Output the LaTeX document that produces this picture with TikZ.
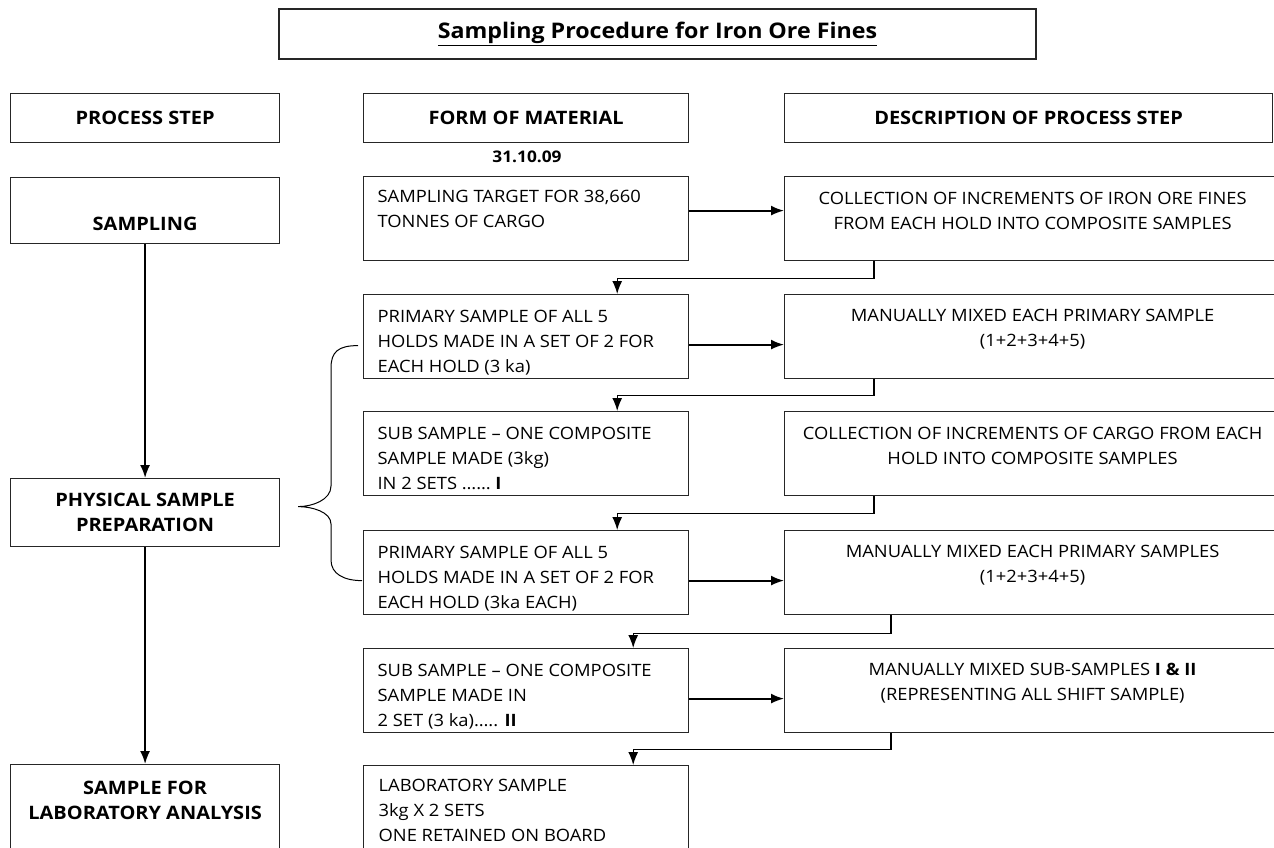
\documentclass[tikz,border=0pt]{standalone}
\usepackage{fontspec}
\setmainfont{Open Sans}[FakeStretch=1.08]
\usetikzlibrary{calc,arrows.meta}
\begin{document}
\begin{tikzpicture}[x=1pt,y=-1pt,>={Latex[length=13pt,width=10pt]},line width=1.2pt]
    \tikzstyle{every node}=[font=\fontsize{17}{25}\selectfont]
    \tikzstyle{stepbox}=[draw=black!85,anchor=north west,inner sep=0,minimum width=269pt]
    \tikzstyle{matbox}=[draw=black!85,anchor=north west,inner sep=0,minimum width=325pt,minimum height=84pt]
    \tikzstyle{descbox}=[draw=black!85,anchor=north west,inner sep=0,minimum width=496pt,minimum height=84pt]
    \tikzstyle{lefttext}=[anchor=north west,align=left,inner sep=0]
    \tikzstyle{midtext}=[anchor=north,align=center,inner sep=0]
    \tikzstyle{headtext}=[align=center,font=\fontsize{18.5}{25}\selectfont\bfseries]
    \tikzstyle{flow}=[-{Latex[length=13pt,width=10pt]},line width=1.8pt]

    \useasboundingbox (0,0) rectangle (1274,847);

    % title and column heads
    \node[draw=black!85,minimum width=757pt,minimum height=50pt,
      font=\fontsize{21.5}{25}\selectfont\bfseries] (title) at (657.5,34)
      {\underline{Sampling Procedure for Iron Ore Fines}};

    \node[stepbox,minimum height=49pt,headtext] (head1) at (10,93) {PROCESS STEP};
    \node[matbox,minimum height=49pt,headtext] (head2) at (363,93) {FORM OF MATERIAL};
    \node[descbox,minimum width=488pt,minimum height=49pt,headtext] (head3) at (784,93)
      {DESCRIPTION OF PROCESS STEP};

    \node[headtext,inner sep=0,font=\fontsize{16}{25}\selectfont\bfseries] (date) at (527,157) {31.10.09};

    % process steps
    \node[stepbox,minimum height=66pt] (samp) at (10,177) {};
    \node[headtext,inner sep=0] (sampt) at ($(samp.north)+(0,47)$) {SAMPLING};

    \node[stepbox,minimum height=68pt,headtext] (phys) at (10,478)
      {PHYSICAL SAMPLE\\PREPARATION};

    \node[stepbox,minimum height=100pt] (lab) at (10,764) {};
    \node[headtext,inner sep=0,anchor=north] (labt) at ($(lab.north)+(0,16)$)
      {SAMPLE FOR\\LABORATORY ANALYSIS};

    % form of material
    \node[matbox] (mat1) at (363,176) {};
    \node[matbox] (mat2) at (363,294) {};
    \node[matbox] (mat3) at (363,411) {};
    \node[matbox] (mat4) at (363,530) {};
    \node[matbox] (mat5) at (363,648) {};
    \node[matbox,minimum height=100pt] (mat6) at (363,765) {};

    \node[lefttext] (mat1t) at ($(mat1.north west)+(14,14)$)
      {SAMPLING TARGET FOR 38,660\\TONNES OF CARGO};
    \node[lefttext] (mat2t) at ($(mat2.north west)+(14,16)$)
      {PRIMARY SAMPLE OF ALL 5\\HOLDS MADE IN A SET OF 2 FOR\\EACH HOLD (3 ka)};
    \node[lefttext] (mat3t) at ($(mat3.north west)+(14,16)$)
      {SUB SAMPLE – ONE COMPOSITE\\SAMPLE MADE (3kg)\\IN 2 SETS …… \textbf{I}};
    \node[lefttext] (mat4t) at ($(mat4.north west)+(14,16)$)
      {PRIMARY SAMPLE OF ALL 5\\HOLDS MADE IN A SET OF 2 FOR\\EACH HOLD (3ka EACH)};
    \node[lefttext] (mat5t) at ($(mat5.north west)+(14,16)$)
      {SUB SAMPLE – ONE COMPOSITE\\SAMPLE MADE IN\\2 SET (3 ka)….. \textbf{II}};
    \node[lefttext] (mat6t) at ($(mat6.north west)+(15,14)$)
      {LABORATORY SAMPLE\\3kg X 2 SETS\\ONE RETAINED ON BOARD};

    % description of process step
    \node[descbox] (desc1) at (784,176) {};
    \node[descbox] (desc2) at (784,294) {};
    \node[descbox] (desc3) at (784,411) {};
    \node[descbox] (desc4) at (784,530) {};
    \node[descbox] (desc5) at (784,648) {};

    \node[midtext] (desc1t) at ($(desc1.north)+(0,16)$)
      {COLLECTION OF INCREMENTS OF IRON ORE FINES\\FROM EACH HOLD INTO COMPOSITE SAMPLES};
    \node[midtext] (desc2t) at ($(desc2.north)+(0,15)$)
      {MANUALLY MIXED EACH PRIMARY SAMPLE\\(1+2+3+4+5)};
    \node[midtext] (desc3t) at ($(desc3.north)+(0,16)$)
      {COLLECTION OF INCREMENTS OF CARGO FROM EACH\\HOLD INTO COMPOSITE SAMPLES};
    \node[midtext] (desc4t) at ($(desc4.north)+(0,15)$)
      {MANUALLY MIXED EACH PRIMARY SAMPLES\\(1+2+3+4+5)};
    \node[midtext] (desc5t) at ($(desc5.north)+(0,15)$)
      {MANUALLY MIXED SUB-SAMPLES \textbf{I \& II}\\(REPRESENTING ALL SHIFT SAMPLE)};

    % left column
    \draw[flow] (samp) -- (phys);
    \draw[flow] (phys) -- (lab);

    % across
    \draw[flow] ([yshift=8pt]mat1.east) -- ([yshift=8pt]desc1.west);
    \draw[flow] ([yshift=-8pt]mat2.east) -- ([yshift=-8pt]desc2.west);
    \draw[flow] ([yshift=-8pt]mat4.east) -- ([yshift=-8pt]desc4.west);
    \draw[flow] ([yshift=-8pt]mat5.east) -- ([yshift=-8pt]desc5.west);

    % back to the next material
    \draw[flow,line width=1.3pt] ([xshift=90pt]desc1.south west) -- ++(0,17) -| ([xshift=-72pt]mat2.north east);
    \draw[flow,line width=1.3pt] ([xshift=90pt]desc2.south west) -- ++(0,16) -| ([xshift=-72pt]mat3.north east);
    \draw[flow,line width=1.3pt] ([xshift=90pt]desc3.south west) -- ++(0,17) -| ([xshift=-72pt]mat4.north east);
    \draw[flow,line width=1.3pt] ([xshift=107pt]desc4.south west) -- ++(0,18) -| ([xshift=-56pt]mat5.north east);
    \draw[flow,line width=1.3pt] ([xshift=107pt]desc5.south west) -- ++(0,16) -| ([xshift=-56pt]mat6.north east);

    % brace
    \coordinate (braceTop) at ($(mat2.west)+(-5,9)$);
    \coordinate (braceTip) at ($(phys.east)+(18,-6)$);
    \coordinate (braceBot) at ($(mat4.west)+(-1,8)$);
    \draw[line width=1pt] (braceTop) .. controls ++(-20,0) and ++(0,-16) .. (331,368)
      -- (331,486) .. controls ++(0,14) and ++(14,0) .. (braceTip)
      .. controls ++(14,0) and ++(0,-12) .. (331,524)
      -- (331,560) .. controls ++(0,14) and ++(-18,0) .. (braceBot);
\end{tikzpicture}
\end{document}
